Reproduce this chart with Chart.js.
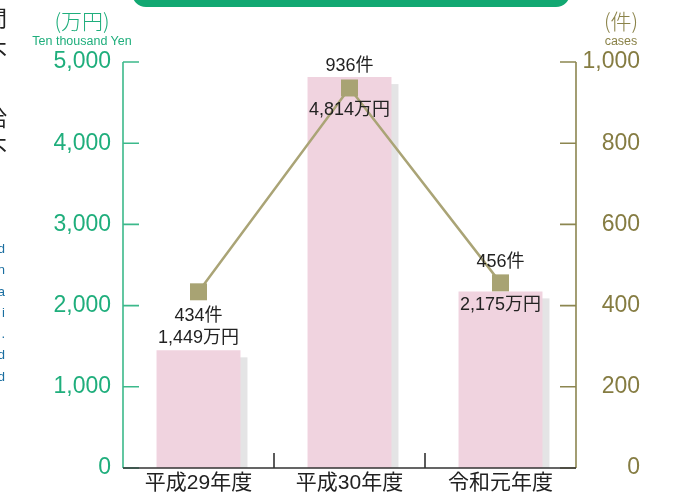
<!DOCTYPE html>
<html>
<head>
<meta charset="utf-8">
<script src="https://cdn.jsdelivr.net/npm/chart.js@4"></script>
<style>
    body { margin: 0; background: #fff; }
    #wrap { position: relative; width: 678px; height: 496px; overflow: hidden; font-family: "Liberation Sans", "Noto Sans CJK JP", sans-serif; }
    canvas { position: absolute; left: 0; top: 0; }
    .banner { position: absolute; left: 132px; top: -20px; width: 438px; height: 27px; background: #12a872; border-radius: 0 0 14px 14px; }
    .unit { position: absolute; text-align: center; width: 140px; }
    .unit .jp { font-size: 21px; line-height: 24px; font-family: "Noto Sans CJK JP", sans-serif; font-weight: 300; }
    .unit .en { font-size: 12.5px; line-height: 16px; margin-top: 1px; }
    .frag { position: absolute; white-space: nowrap; }
</style>
</head>
<body>
<div id="wrap">
    <canvas id="chart" width="678" height="496"></canvas>
    <div class="banner"></div>

    <!-- bits of the neighbouring page that are cut off on the left -->
    <div class="frag" style="left:-15px; top:0px; font-size:22px; color:#222; font-family:'Noto Sans CJK JP';">間</div>
    <div class="frag" style="left:-15px; top:34px; font-size:22px; color:#222; font-family:'Noto Sans CJK JP';">不</div>
    <div class="frag" style="left:-15px; top:100px; font-size:22px; color:#222; font-family:'Noto Sans CJK JP';">給</div>
    <div class="frag" style="left:-15px; top:130px; font-size:22px; color:#222; font-family:'Noto Sans CJK JP';">不</div>
    <div class="frag" style="right:673px; top:238px; font-size:13px; line-height:21.3px; color:#1a6ea0; text-align:right;">
        paid<br>certification<br>data<br>Tax i<br>year .<br>paid<br>approved
    </div>

    <div class="unit" style="left:12px; top:8px; color:#1fae7c;">
        <div class="jp">(万円)</div>
        <div class="en">Ten thousand Yen</div>
    </div>
    <div class="unit" style="left:551px; top:8px; color:#8a8248;">
        <div class="jp">(件)</div>
        <div class="en">cases</div>
    </div>
</div>

<script>
const years = ["平成29年度", "平成30年度", "令和元年度"];
const amounts = [1449, 4814, 2175];       // 万円
const cases = [434, 936, 456];            // 件
const amountTicks = [0, 1000, 2000, 3000, 4000, 5000];
const caseTicks = [0, 200, 400, 600, 800, 1000];

// where the two labels sit, relative to the bar top / the marker
const amountLabelDy = [-12, 33, 14];
const caseLabelDy = [24, -22, -21];

const fmt = n => n.toLocaleString("en-US");

const GREEN = "#1fae7c";
const OLIVE = "#857c42";

const axesPlugin = {
    id: "axes",
    beforeDatasetsDraw(chart) {
        const ctx = chart.ctx;
        const bars = chart.getDatasetMeta(0).data;
        ctx.save();
        ctx.fillStyle = "#e4e4e5";
        bars.forEach(b => {
            ctx.fillRect(b.x - b.width / 2 + 7, b.y + 7, b.width, b.base - b.y - 7);
        });
        ctx.restore();
    },
    afterDatasetsDraw(chart) {
        const { ctx, chartArea: a, scales } = chart;
        ctx.save();

        // left axis
        ctx.strokeStyle = "#3cb98b";
        ctx.lineWidth = 1.6;
        ctx.beginPath();
        ctx.moveTo(a.left, a.top);
        ctx.lineTo(a.left, a.bottom);
        amountTicks.forEach(v => {
            const y = scales.y.getPixelForValue(v);
            ctx.moveTo(a.left, y);
            ctx.lineTo(a.left + 16, y);
        });
        ctx.stroke();

        // right axis
        ctx.strokeStyle = "#8c8650";
        ctx.beginPath();
        ctx.moveTo(a.right, a.top);
        ctx.lineTo(a.right, a.bottom);
        caseTicks.forEach(v => {
            const y = scales.y1.getPixelForValue(v);
            ctx.moveTo(a.right, y);
            ctx.lineTo(a.right - 16, y);
        });
        ctx.stroke();

        // bottom axis and category separators
        ctx.strokeStyle = "#333";
        ctx.beginPath();
        ctx.moveTo(a.left, a.bottom);
        ctx.lineTo(a.right, a.bottom);
        for (let i = 0; i < years.length - 1; i++) {
            const x = (scales.x.getPixelForTick(i) + scales.x.getPixelForTick(i + 1)) / 2;
            ctx.moveTo(x, a.bottom);
            ctx.lineTo(x, a.bottom - 15);
        }
        ctx.stroke();

        // value labels
        const bars = chart.getDatasetMeta(0).data;
        const pts = chart.getDatasetMeta(1).data;
        ctx.fillStyle = "#222";
        ctx.font = '18px "Liberation Sans", "Noto Sans CJK JP", sans-serif';
        ctx.textAlign = "center";
        ctx.textBaseline = "middle";
        bars.forEach((b, i) => {
            ctx.fillText(fmt(amounts[i]) + "万円", b.x, b.y + amountLabelDy[i]);
        });
        pts.forEach((p, i) => {
            ctx.fillText(fmt(cases[i]) + "件", p.x, p.y + caseLabelDy[i]);
        });
        ctx.restore();
    }
};

new Chart(document.getElementById("chart"), {
    type: "bar",
    data: {
        labels: years,
        datasets: [
            {
                type: "bar",
                label: "給付額",
                data: amounts,
                yAxisID: "y",
                backgroundColor: "#f0d3df",
                barPercentage: 0.556,
                categoryPercentage: 1,
                order: 2
            },
            {
                type: "line",
                label: "件数",
                data: cases,
                yAxisID: "y1",
                borderColor: "#aaa476",
                borderWidth: 2.5,
                pointStyle: "rect",
                pointRadius: 12,
                pointBorderWidth: 0,
                pointBackgroundColor: "#a8a373",
                order: 1
            }
        ]
    },
    options: {
        responsive: false,
        animation: false,
        layout: { padding: { left: 0, right: 38, top: 62, bottom: 0 } },
        plugins: { legend: { display: false }, tooltip: { enabled: false } },
        scales: {
            x: {
                grid: { display: false, drawTicks: false },
                border: { display: false },
                ticks: {
                    color: "#222",
                    padding: 3,
                    font: { size: 21, family: '"Liberation Sans", "Noto Sans CJK JP", sans-serif' }
                },
                afterFit: s => { s.height = 28; }
            },
            y: {
                position: "left",
                min: 0,
                max: 5000,
                grid: { display: false, drawTicks: false },
                border: { display: false },
                ticks: {
                    stepSize: 1000,
                    color: GREEN,
                    padding: 12,
                    font: { size: 23 },
                    callback: v => fmt(v)
                },
                afterFit: s => { s.width = 123; }
            },
            y1: {
                position: "right",
                min: 0,
                max: 1000,
                grid: { display: false, drawTicks: false },
                border: { display: false },
                ticks: {
                    stepSize: 200,
                    color: OLIVE,
                    padding: 7,
                    crossAlign: "far",
                    font: { size: 23 },
                    callback: v => fmt(v)
                },
                afterFit: s => { s.width = 64; }
            }
        }
    },
    plugins: [axesPlugin]
});
</script>
</body>
</html>
